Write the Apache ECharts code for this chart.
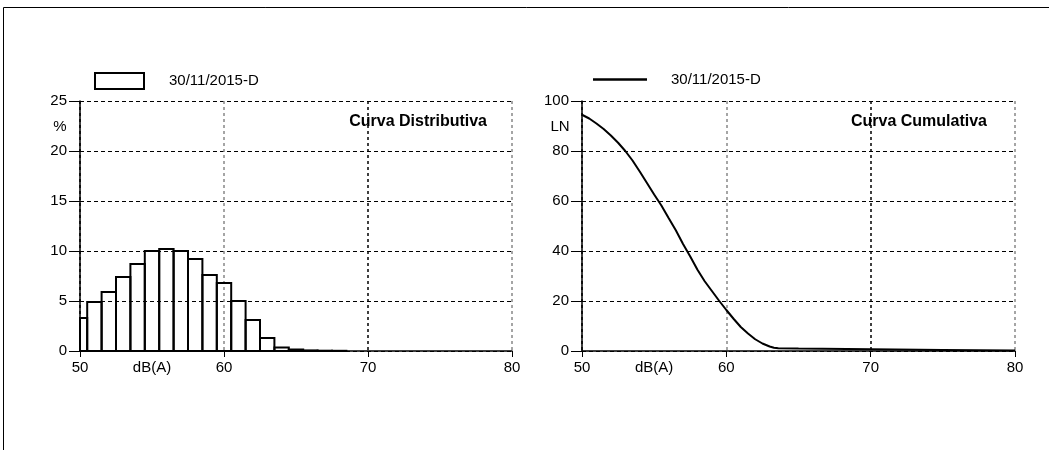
<!DOCTYPE html>
<html><head><meta charset="utf-8">
<script src="https://cdn.jsdelivr.net/npm/echarts@6/dist/echarts.min.js"></script>
<style>html,body{margin:0;padding:0;background:#fff}#c{width:1049px;height:450px}</style>
</head><body><div id="c"></div>
<script>
const legendLabel = '30/11/2015-D';
const titleDist = 'Curva Distributiva';
const titleCum = 'Curva Cumulativa';
const xAxisName = 'dB(A)';
const yNameDist = '%';
const yNameCum = 'LN';

// Distribution: bins of 1 dB centred on integer levels (percent of time)
const distLevels  = [50, 51, 52, 53, 54, 55, 56, 57, 58, 59, 60, 61, 62, 63, 64, 65, 66, 67, 68];
const distPercent = [3.3, 4.9, 5.9, 7.4, 8.7, 10.0, 10.2, 10.0, 9.2, 7.6, 6.8, 5.0, 3.1, 1.3, 0.35, 0.15, 0.06, 0.03, 0.02];

// Cumulative curve LN
const cumLevels = [50, 50.5, 51, 51.5, 52, 52.5, 53, 53.5, 54, 54.5, 55, 55.5, 56, 56.5, 57, 57.5, 58, 58.5, 59, 59.5, 60, 60.5, 61, 61.5, 62, 62.5, 63, 63.3, 63.6, 65, 70, 75, 80];
const cumLN     = [94.5, 93.0, 91.0, 88.8, 86.2, 83.3, 80.0, 76.2, 71.8, 67.2, 62.6, 58.2, 53.2, 48.3, 42.8, 37.8, 32.5, 27.9, 24.0, 20.1, 16.4, 12.9, 9.6, 7.0, 4.7, 3.0, 1.8, 1.3, 1.1, 1.0, 0.7, 0.4, 0.2];

const xRange = [50, 80, 10];
const yRangeDist = [0, 25, 5];
const yRangeCum = [0, 100, 20];

const FONT = "'Liberation Sans', Arial, sans-serif";

const chart = echarts.init(document.getElementById('c'), null, {renderer: 'canvas'});

function xAxisCfg(gridIndex) {
  return {
    type: 'value', gridIndex, min: xRange[0], max: xRange[1], interval: xRange[2],
    axisLine: {show: true, onZero: false, lineStyle: {color: '#000', width: 1.5}},
    axisTick: {show: true, length: 6, lineStyle: {color: '#000', width: 1}},
    axisLabel: {color: '#000', fontFamily: FONT, fontSize: 15, margin: 9},
    splitLine: {show: true, lineStyle: {color: ['#000', '#888', '#000', '#888'], width: 1.5, type: [3, 3]}}
  };
}
function yAxisCfg(gridIndex, r) {
  return {
    type: 'value', gridIndex, min: r[0], max: r[1], interval: r[2],
    axisLine: {show: true, lineStyle: {color: '#000', width: 1.5}},
    axisTick: {show: true, length: 11, lineStyle: {color: '#000', width: 1}},
    axisLabel: {color: '#000', fontFamily: FONT, fontSize: 15, margin: 13},
    splitLine: {show: true, lineStyle: {color: '#000', width: 1, type: [4, 3]}}
  };
}

const option = {
  animation: false,
  backgroundColor: '#fff',
  grid: [
    {left: 80, top: 101, width: 432, height: 250},
    {left: 582, top: 101, width: 433, height: 250}
  ],
  xAxis: [xAxisCfg(0), xAxisCfg(1)],
  yAxis: [yAxisCfg(0, yRangeDist), yAxisCfg(1, yRangeCum)],
  title: [
    {text: titleDist, right: 1049 - 487, top: 114, padding: 0,
     textStyle: {fontFamily: FONT, fontSize: 16, fontWeight: 'bold', color: '#000'}},
    {text: titleCum, right: 1049 - 987, top: 114, padding: 0,
     textStyle: {fontFamily: FONT, fontSize: 16, fontWeight: 'bold', color: '#000'}}
  ],
  legend: [
    {data: ['dist'], left: 94, top: 72, padding: 0, itemWidth: 49, itemHeight: 16, icon: 'rect',
     selectedMode: false, formatter: () => legendLabel,
     itemStyle: {color: '#fff', borderColor: '#000', borderWidth: 2},
     textStyle: {fontFamily: FONT, fontSize: 15, color: '#000', padding: [0, 0, 0, 20]}},
    {data: ['cum'], left: 593, top: 72, padding: 0, itemWidth: 54, itemHeight: 2.5, icon: 'rect',
     selectedMode: false, formatter: () => legendLabel,
     itemStyle: {color: '#000', borderWidth: 0},
     textStyle: {fontFamily: FONT, fontSize: 15, color: '#000', padding: [0, 0, 0, 19]}}
  ],
  series: [
    {
      name: 'dist', type: 'custom', xAxisIndex: 0, yAxisIndex: 0,
      data: distLevels.map((x, i) => [x, distPercent[i]]),
      itemStyle: {color: '#fff', borderColor: '#000', borderWidth: 2},
      renderItem: function (params, api) {
        const x = api.value(0), y = api.value(1);
        if (!(y > 0)) return null;
        const p1 = api.coord([x - 0.5, y]);
        const p2 = api.coord([x + 0.5, 0]);
        const cs = params.coordSys;
        const shape = echarts.graphic.clipRectByRect(
          {x: p1[0], y: p1[1], width: p2[0] - p1[0], height: p2[1] - p1[1]},
          {x: cs.x, y: cs.y, width: cs.width, height: cs.height});
        if (!shape) return null;
        return {type: 'rect', shape: shape,
          style: {fill: 'rgba(255,255,255,0)', stroke: '#000', lineWidth: 2}};
      }
    },
    {
      name: 'cum', type: 'line', xAxisIndex: 1, yAxisIndex: 1,
      data: cumLevels.map((x, i) => [x, cumLN[i]]),
      showSymbol: false, symbol: 'none', smooth: false,
      lineStyle: {color: '#000', width: 2}, itemStyle: {color: '#000'}, z: 3
    }
  ]
};
chart.setOption(option);

function textEl(x, y, s, align) {
  return {type: 'text', x: x, y: y, silent: true,
    style: {text: s, fill: '#000', font: '15px ' + FONT, textAlign: align || 'center', textVerticalAlign: 'middle'}};
}
const pL = chart.convertToPixel({gridIndex: 0}, [55, 0]);
const pR = chart.convertToPixel({gridIndex: 1}, [55, 0]);
chart.setOption({
  graphic: [
    {type: 'rect', silent: true, shape: {x: 3.5, y: 7.5, width: 1200, height: 600},
     style: {fill: 'none', stroke: '#000', lineWidth: 1}},
    textEl(pL[0], pL[1] + 17, xAxisName),
    textEl(pR[0], pR[1] + 17, xAxisName),
    textEl(60, 127, yNameDist),
    textEl(560, 127, yNameCum)
  ]
});
</script></body></html>
